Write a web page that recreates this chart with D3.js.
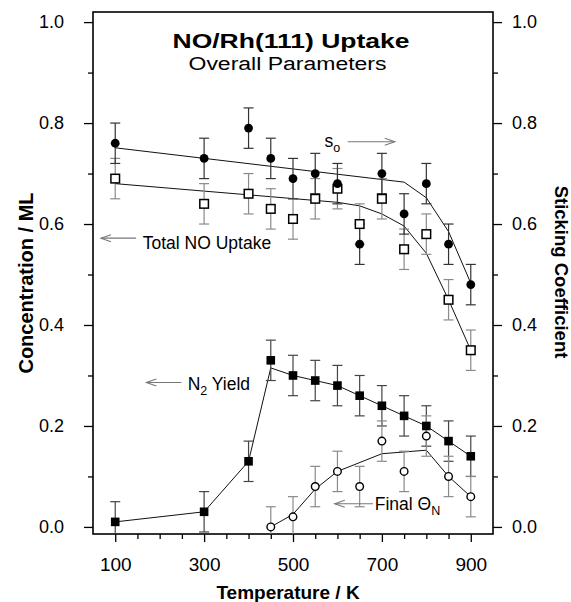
<!DOCTYPE html>
<html>
<head>
<meta charset="utf-8">
<script src="https://cdn.jsdelivr.net/npm/d3@7"></script>
<style>
  body { margin: 0; background: #fff; }
  svg { display: block; font-family: "Liberation Sans", Arial, Helvetica, sans-serif; }
</style>
</head>
<body>
<div id="chart"></div>
<script>
// measured points (K, ML or sticking coefficient)
const temps = [100, 300, 400, 450, 500, 550, 600, 650, 700, 750, 800, 850, 900];
const stickS0 = [0.76, 0.73, 0.79, 0.73, 0.69, 0.70, 0.68, 0.56, 0.70, 0.62, 0.68, 0.56, 0.48];
const totalNO = [0.69, 0.64, 0.66, 0.63, 0.61, 0.65, 0.67, 0.60, 0.65, 0.55, 0.58, 0.45, 0.35];
const n2Yield = [0.01, 0.03, 0.13, 0.33, 0.30, 0.29, 0.28, 0.26, 0.24, 0.22, 0.20, 0.17, 0.14];
const thetaTemps = [450, 500, 550, 600, 650, 700, 750, 800, 850, 900];
const finalThetaN = [0.00, 0.02, 0.08, 0.11, 0.08, 0.17, 0.11, 0.18, 0.10, 0.06];
const errHalf = 0.04;

// guide-to-the-eye curves
const s0FitT = [100, 750, 800, 850, 900];
const s0FitV = [0.751, 0.683, 0.652, 0.585, 0.483];
const noFitT = [100, 600, 650, 700, 750, 800, 850, 900];
const noFitV = [0.68, 0.643, 0.636, 0.62, 0.596, 0.542, 0.45, 0.35];
const n2FitT = [100, 300, 400, 450, 500, 550, 600, 650, 700, 750, 800, 850, 900];
const n2FitV = [0.01, 0.03, 0.13, 0.315, 0.30, 0.29, 0.28, 0.26, 0.24, 0.22, 0.20, 0.17, 0.14];
const thFitT = [450, 500, 550, 600, 700, 800, 850, 900];
const thFitV = [0.0, 0.025, 0.075, 0.11, 0.145, 0.152, 0.10, 0.06];

// ticks
const xMajor = [100, 300, 500, 700, 900];
const xMinor = [150, 200, 250, 350, 400, 450, 550, 600, 650, 750, 800, 850];
const yMajor = [0, 0.2, 0.4, 0.6, 0.8, 1.0];
const yMinor = [0.1, 0.3, 0.5, 0.7, 0.9];

// annotation labels: text start (T, value), arrow tail -> tip (T) at value
const notes = [
  { main: 's', sub: 'o', tx: 571, ty: 0.752, ax1: 623, ax2: 729, ay: 0.763 },
  { main: 'Total NO Uptake', sub: '', tx: 162, ty: 0.55, ax1: 147, ax2: 68, ay: 0.572 },
  { main: 'N', sub: '2', rest: ' Yield', tx: 263, ty: 0.271, ax1: 249, ax2: 170, ay: 0.286 },
  { main: 'Final \u0398', sub: 'N', tx: 684, ty: 0.034, ax1: 680, ax2: 594, ay: 0.046 }
];

const W = 571, H = 602;
const frame = { left: 93, right: 493, top: 12, bottom: 534 };

const x = d3.scaleLinear().domain([50, 950]).range([frame.left, frame.right]);
const y = d3.scaleLinear().domain([-0.014, 1.02]).range([frame.bottom, frame.top]);

const svg = d3.select('#chart').append('svg')
  .attr('width', W).attr('height', H);

svg.append('defs').append('clipPath').attr('id', 'plotclip')
  .append('rect')
  .attr('x', frame.left).attr('y', frame.top)
  .attr('width', frame.right - frame.left).attr('height', frame.bottom - frame.top);

// axes
function styleAxis(g, size) {
  g.select('.domain').remove();
  g.selectAll('line').attr('stroke', '#000').attr('stroke-width', 1.3);
  g.selectAll('text').attr('fill', '#000').style('font-size', size + 'px')
    .attr('font-family', null);
  g.attr('font-family', null);
}

svg.append('g').attr('transform', `translate(${frame.left},0)`)
  .call(d3.axisLeft(y).tickValues(yMajor).tickSize(9).tickPadding(20).tickFormat(d3.format('.1f')))
  .call(g => styleAxis(g, 18));
svg.append('g').attr('transform', `translate(${frame.left},0)`)
  .call(d3.axisLeft(y).tickValues(yMinor).tickSize(5).tickFormat(''))
  .call(g => styleAxis(g, 18));
svg.append('g').attr('transform', `translate(${frame.right},0)`)
  .call(d3.axisRight(y).tickValues(yMajor).tickSize(9).tickPadding(10).tickFormat(d3.format('.1f')))
  .call(g => styleAxis(g, 18));
svg.append('g').attr('transform', `translate(${frame.right},0)`)
  .call(d3.axisRight(y).tickValues(yMinor).tickSize(5).tickFormat(''))
  .call(g => styleAxis(g, 18));
svg.append('g').attr('transform', `translate(0,${frame.bottom})`)
  .call(d3.axisBottom(x).tickValues(xMajor).tickSize(8).tickPadding(16))
  .call(g => styleAxis(g, 19));
svg.append('g').attr('transform', `translate(0,${frame.bottom})`)
  .call(d3.axisBottom(x).tickValues(xMinor).tickSize(5).tickFormat(''))
  .call(g => styleAxis(g, 19));

svg.append('rect')
  .attr('x', frame.left).attr('y', frame.top)
  .attr('width', frame.right - frame.left).attr('height', frame.bottom - frame.top)
  .attr('fill', 'none').attr('stroke', '#000').attr('stroke-width', 1.6);

// axis titles
svg.append('text')
  .attr('x', 288).attr('y', 599)
  .attr('text-anchor', 'middle')
  .style('font-weight', 'bold').style('font-size', '19px')
  .text('Temperature / K');

svg.append('text')
  .attr('transform', 'translate(33,283) rotate(-90)')
  .attr('text-anchor', 'middle')
  .style('font-weight', 'bold').style('font-size', '20px')
  .text('Concentration / ML');

svg.append('text')
  .attr('transform', 'translate(555,272) rotate(90)')
  .attr('text-anchor', 'middle')
  .style('font-weight', 'bold').style('font-size', '18.5px')
  .text('Sticking Coefficient');

// title
svg.append('text')
  .attr('x', 291).attr('y', 48)
  .attr('text-anchor', 'middle')
  .attr('textLength', 237).attr('lengthAdjust', 'spacingAndGlyphs')
  .style('font-weight', 'bold').style('font-size', '20px')
  .text('NO/Rh(111) Uptake');
svg.append('text')
  .attr('x', 287.5).attr('y', 70)
  .attr('text-anchor', 'middle')
  .attr('textLength', 198).attr('lengthAdjust', 'spacingAndGlyphs')
  .style('font-size', '18px')
  .text('Overall Parameters');

const plot = svg.append('g').attr('clip-path', 'url(#plotclip)');

// fit lines
const line = d3.line().x(d => x(d[0])).y(d => y(d[1]));
[[s0FitT, s0FitV], [noFitT, noFitV], [n2FitT, n2FitV], [thFitT, thFitV]].forEach(([ts, vs]) => {
  plot.append('path')
    .datum(d3.zip(ts, vs))
    .attr('d', line)
    .attr('fill', 'none').attr('stroke', '#111').attr('stroke-width', 1);
});

// error bars
function errorBars(ts, vs, color) {
  const g = plot.append('g').attr('stroke', color).attr('stroke-width', 1.2);
  const pts = d3.zip(ts, vs);
  g.selectAll('line.v').data(pts).join('line')
    .attr('x1', d => x(d[0])).attr('x2', d => x(d[0]))
    .attr('y1', d => y(d[1] + errHalf)).attr('y2', d => y(d[1] - errHalf));
  [1, -1].forEach(s => {
    g.selectAll(null).data(pts).join('line')
      .attr('x1', d => x(d[0]) - 5).attr('x2', d => x(d[0]) + 5)
      .attr('y1', d => y(d[1] + s * errHalf)).attr('y2', d => y(d[1] + s * errHalf));
  });
}
errorBars(temps, totalNO, '#8a8a8a');
errorBars(temps, stickS0, '#333');
errorBars(temps, n2Yield, '#444');
errorBars(thetaTemps, finalThetaN, '#8a8a8a');

// markers
plot.append('g').selectAll('rect').data(d3.zip(temps, totalNO)).join('rect')
  .attr('x', d => x(d[0]) - 4.3).attr('y', d => y(d[1]) - 4.3)
  .attr('width', 8.6).attr('height', 8.6)
  .attr('fill', '#fff').attr('stroke', '#000').attr('stroke-width', 1.5);

plot.append('g').selectAll('circle').data(d3.zip(temps, stickS0)).join('circle')
  .attr('cx', d => x(d[0])).attr('cy', d => y(d[1])).attr('r', 4.4)
  .attr('fill', '#000');

plot.append('g').selectAll('rect').data(d3.zip(temps, n2Yield)).join('rect')
  .attr('x', d => x(d[0]) - 4.3).attr('y', d => y(d[1]) - 4.3)
  .attr('width', 8.6).attr('height', 8.6)
  .attr('fill', '#000');

plot.append('g').selectAll('circle').data(d3.zip(thetaTemps, finalThetaN)).join('circle')
  .attr('cx', d => x(d[0])).attr('cy', d => y(d[1])).attr('r', 3.8)
  .attr('fill', '#fff').attr('stroke', '#000').attr('stroke-width', 1.4);

// annotations with open arrows
const ann = svg.append('g');
notes.forEach(n => {
  const t = ann.append('text')
    .attr('x', x(n.tx)).attr('y', y(n.ty))
    .style('font-size', '17.5px');
  t.append('tspan').text(n.main);
  if (n.sub) {
    t.append('tspan').attr('dy', 5).style('font-size', '12.5px').text(n.sub);
  }
  if (n.rest) {
    t.append('tspan').attr('dy', -5).text(n.rest);
  }
  const x1 = x(n.ax1), x2 = x(n.ax2), yy = y(n.ay);
  const dir = Math.sign(x2 - x1);
  const g = ann.append('g').attr('stroke', '#777').attr('stroke-width', 1.1).attr('fill', 'none');
  g.append('line').attr('x1', x1).attr('x2', x2).attr('y1', yy).attr('y2', yy);
  g.append('path')
    .attr('d', `M${x2 - dir * 10},${yy - 3.5} L${x2},${yy} L${x2 - dir * 10},${yy + 3.5}`);
});
</script>
</body>
</html>
